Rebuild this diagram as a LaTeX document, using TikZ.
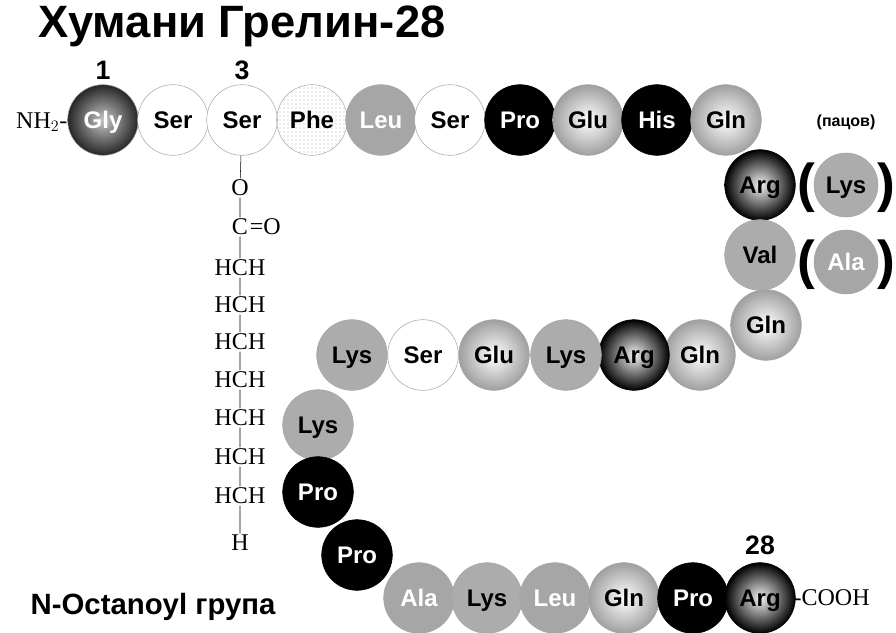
\documentclass[tikz,border=0pt]{standalone}
\usepackage{fontspec}
\setmainfont{Liberation Sans}
\newfontfamily\chem{Liberation Serif}
\usetikzlibrary{patterns}
\begin{document}
\begin{tikzpicture}[x=0.75pt,y=-0.75pt,
 aa/.style={circle,minimum size=53pt,inner sep=0pt,draw=gray!70,line width=0.4pt,font=\fontsize{18}{18}\selectfont\bfseries,text height=13pt,text depth=0pt},
 wh/.style={aa,fill=white},
 blk/.style={aa,fill=black,text=white,draw=black},
 gr/.style={aa,fill=gray!65},
 grw/.style={aa,fill=gray!70,text=white},
 lt/.style={aa,inner color=white,outer color=gray!75},
 dk/.style={aa,inner color=gray!10,outer color=black,draw=black},
 dkw/.style={aa,inner color=gray!45,outer color=black!85,text=white},
 phe/.style={aa,fill=white,pattern=dots,pattern color=gray!60},
 ch/.style={font=\chem\fontsize{18}{18}\selectfont,inner sep=1pt},
 bd/.style={font=\fontsize{20}{20}\selectfont\bfseries},
 par/.style={font=\fontsize{40}{40}\selectfont\bfseries,inner sep=0pt}]
\useasboundingbox (0,0) rectangle (896,632);
\node[anchor=west,font=\fontsize{34}{34}\selectfont\bfseries] (title) at (34,26) {Хумани Грелин-28};
\node[bd] (n1) at (103,70) {1};
\node[bd] (n3) at (242,70) {3};
\node[bd] (n28) at (760,545) {28};
\node[ch,anchor=east] (nh) at (69,122) {NH$_2$-};
\node[dkw] (a1) at (103,120) {Gly};
\node[wh] (a2) at (173,120) {Ser};
\node[wh] (a3) at (242,120) {Ser};
\node[phe] (a4) at (312,120) {};
\node[aa,draw=none] (a4t) at (312,120) {Phe};
\node[grw] (a5) at (381,120) {Leu};
\node[wh] (a6) at (450,120) {Ser};
\node[blk] (a7) at (520,120) {Pro};
\node[lt] (a8) at (588,120) {Glu};
\node[blk] (a9) at (657,120) {His};
\node[lt] (a10) at (726,120) {Gln};
\node[dk] (a11) at (760,185) {Arg};
\node[gr] (a12) at (760,255) {Val};
\node[lt] (a13) at (766,325) {Gln};
\node[lt] (a14) at (700,355) {Gln};
\node[dk] (a15) at (634,355) {Arg};
\node[gr] (a16) at (566,355) {Lys};
\node[lt] (a17) at (494,355) {Glu};
\node[wh] (a18) at (423,355) {Ser};
\node[gr] (a19) at (352,355) {Lys};
\node[gr] (a20) at (318,425) {Lys};
\node[blk] (a21) at (318,492) {Pro};
\node[blk] (a22) at (357,555) {Pro};
\node[grw] (a23) at (419,598) {Ala};
\node[gr] (a24) at (487,598) {Lys};
\node[grw] (a25) at (555,598) {Leu};
\node[lt] (a26) at (624,598) {Gln};
\node[blk] (a27) at (693,598) {Pro};
\node[dk] (a28) at (760,598) {Arg};
\node[ch,anchor=west] (cooh) at (792,598) {-COOH};
\node[font=\fontsize{12}{12}\selectfont\bfseries] (rat) at (846,122) {(пацов)};
\node[gr,minimum size=48pt] (r1) at (846,185) {Lys};
\node[grw,minimum size=48pt] (r2) at (846,262) {Ala};
\foreach \r in {r1,r2}{
 \node[par,anchor=east] at ([xshift=1pt,yshift=-2pt]\r.west) {(};
 \node[par,anchor=west] at ([xshift=-1pt,yshift=-2pt]\r.east) {)};}
\node[ch] (o) at (240,188) {O};
\node[ch] (c) at (240,227) {C};
\node[ch,anchor=west,inner sep=0pt] (co) at (c.east) {=O};
\foreach \i/\y in {1/268,2/305,3/342,4/380,5/418,6/457,7/496}{
 \node[ch] (h\i) at (240,\y) {HCH};}
\node[ch] (hh) at (240,543) {H};
\draw (a3) -- (o) -- (c) -- (h1) -- (h2) -- (h3) -- (h4) -- (h5) -- (h6) -- (h7) -- (hh);
\node[anchor=west,font=\fontsize{22}{22}\selectfont\bfseries] (lab) at (26,607) {N-Octanoyl група};
\end{tikzpicture}
\end{document}
